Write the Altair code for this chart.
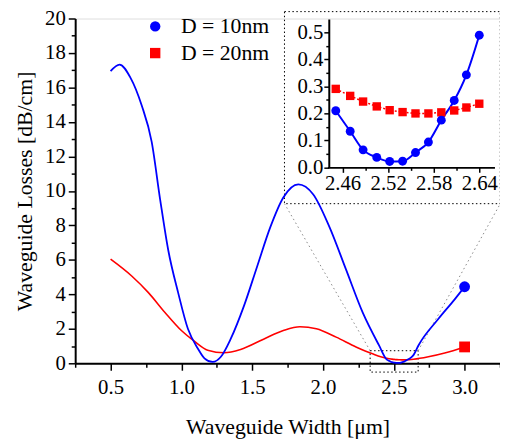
import altair as alt
import pandas as pd

# ---------------- data ----------------
# main curves (width in um, losses in dB/cm)
blue_x = [0.50, 0.563, 0.64, 0.72, 0.79, 0.85, 0.907, 0.977, 1.046, 1.116, 1.163, 1.221,
          1.279, 1.349, 1.442, 1.535, 1.628, 1.72, 1.826, 1.93, 2.046, 2.163, 2.28, 2.395,
          2.451, 2.470, 2.487, 2.505, 2.522, 2.539, 2.556, 2.573, 2.590, 2.607, 2.623, 2.640,
          2.675, 2.814, 2.93, 3.00]
blue_y = [16.95, 17.33, 16.57, 14.95, 12.86, 9.5, 6.57, 4.1, 2.0, 0.86, 0.29, 0.08,
          0.38, 1.43, 3.33, 5.62, 7.9, 9.62, 10.38, 9.81, 7.9, 5.43, 2.95, 1.05,
          0.21, 0.134, 0.065, 0.037, 0.022, 0.023, 0.055, 0.094, 0.175, 0.248, 0.343, 0.49,
          1.05, 2.57, 3.71, 4.44]

red_x = [0.50, 0.651, 0.767, 0.884, 1.0, 1.093, 1.186, 1.302, 1.418, 1.58, 1.72, 1.837,
         1.953, 2.093, 2.233, 2.35,
         2.451, 2.470, 2.487, 2.505, 2.522, 2.539, 2.556, 2.573, 2.590, 2.607, 2.623, 2.640,
         2.744, 2.86, 3.00]
red_y = [6.04, 5.05, 4.1, 2.95, 1.9, 1.27, 0.76, 0.61, 0.8, 1.4, 1.9, 2.12,
         2.0, 1.52, 0.95, 0.55,
         0.291, 0.265, 0.244, 0.226, 0.212, 0.205, 0.200, 0.200, 0.204, 0.211, 0.222, 0.236,
         0.38, 0.6, 0.95]

# end markers
series_names = ["D = 10nm", "D = 20nm"]
marker_x = [3.0, 3.0]
marker_y = [4.44, 0.95]

# inset data
inset_x = [2.451, 2.470, 2.487, 2.505, 2.522, 2.539, 2.556, 2.573, 2.590, 2.607, 2.623, 2.640]
inset_blue = [0.21, 0.134, 0.065, 0.037, 0.022, 0.023, 0.055, 0.094, 0.175, 0.248, 0.343, 0.49]
inset_red = [0.291, 0.265, 0.244, 0.226, 0.212, 0.205, 0.200, 0.200, 0.204, 0.211, 0.222, 0.236]

# zoom annotation (main-axis coordinates)
zoom_rect = {"x": 2.333, "x2": 2.672, "y": -0.51, "y2": 0.73}
inset_box = {"x": 1.728, "x2": 3.252, "y": 9.26, "y2": 20.4}
connectors = [
    {"x": 2.333, "y": 0.73, "x2": 1.728, "y2": 9.26},
    {"x": 2.672, "y": 0.73, "x2": 3.252, "y2": 9.26},
]

main_x_ticks = [0.25 * i for i in range(1, 14)]
main_y_ticks = list(range(0, 21))
inset_x_ticks = [2.46, 2.49, 2.52, 2.55, 2.58, 2.61, 2.64]
inset_y_ticks = [0.0, 0.05, 0.1, 0.15, 0.2, 0.25, 0.3, 0.35, 0.4, 0.45, 0.5]

BLUE = "#0000ff"
RED = "#ff0000"
FONT = "Liberation Serif"

W, H = 430, 349

# ---------------- main chart ----------------
xs_main = alt.Scale(domain=[0.25, 3.25], nice=False, zero=False)
ys_main = alt.Scale(domain=[0, 20], nice=False, zero=False)

x_axis_main = alt.Axis(
    values=main_x_ticks, title="Waveguide Width [\u03bcm]", grid=False,
    labelExpr="datum.value % 0.5 == 0 ? format(datum.value, '.1f') : ''",
    labelOverlap=False, labelFlush=False,
    tickSize={"condition": {"test": "datum.value % 0.5 == 0", "value": 7}, "value": 4},
    tickWidth=1.5, domainWidth=2, domainColor="black", tickColor="black",
    labelFont=FONT, labelFontSize=21, labelColor="black", labelPadding=7,
    titleFont=FONT, titleFontSize=22, titleFontWeight="normal", titleColor="black",
    titlePadding=19,
)
y_axis_main = alt.Axis(
    values=main_y_ticks, title="Waveguide Losses [dB/cm]", grid=False,
    labelExpr="datum.value % 2 == 0 ? datum.label : ''",
    labelOverlap=False, labelFlush=False,
    tickSize={"condition": {"test": "datum.value % 2 == 0", "value": 7}, "value": 4},
    tickWidth=1.5, domainWidth=2, domainColor="black", tickColor="black",
    labelFont=FONT, labelFontSize=21, labelColor="black", labelPadding=3,
    titleFont=FONT, titleFontSize=22, titleFontWeight="normal", titleColor="black",
    titlePadding=8,
)

blue_df = pd.DataFrame({"x": blue_x, "y": blue_y})
red_df = pd.DataFrame({"x": red_x, "y": red_y})
mk_df = pd.DataFrame({"x": marker_x, "y": marker_y, "series": series_names})

base_x = alt.X("x:Q", scale=xs_main, axis=x_axis_main)
base_y = alt.Y("y:Q", scale=ys_main, axis=y_axis_main)

box = alt.Chart(pd.DataFrame([inset_box])).mark_rect(
    fill=None, stroke="black", strokeWidth=1, strokeDash=[1.5, 2.5]
).encode(x=base_x, x2="x2:Q", y=base_y, y2="y2:Q")

zrect = alt.Chart(pd.DataFrame([zoom_rect])).mark_rect(
    fill=None, stroke="black", strokeWidth=1, strokeDash=[1.5, 2.5]
).encode(x=base_x, x2="x2:Q", y=base_y, y2="y2:Q")

conn = alt.Chart(pd.DataFrame(connectors)).mark_rule(
    stroke="#888888", strokeWidth=1, strokeDash=[1.5, 3]
).encode(x=base_x, x2="x2:Q", y=base_y, y2="y2:Q")

blue_line = alt.Chart(blue_df).mark_line(
    color=BLUE, strokeWidth=1.8, interpolate="monotone"
).encode(x=base_x, y=base_y)

red_line = alt.Chart(red_df).mark_line(
    color=RED, strokeWidth=1.6, interpolate="monotone"
).encode(x=base_x, y=base_y)

legend = alt.Legend(
    orient="none", legendX=70, legendY=-3, title=None,
    labelFont=FONT, labelFontSize=22, labelColor="black",
    symbolSize=110, symbolStrokeWidth=0, rowPadding=5, labelOffset=15,
)
markers = alt.Chart(mk_df).mark_point(filled=True, opacity=1, size=120).encode(
    x=base_x, y=base_y,
    color=alt.Color("series:N", scale=alt.Scale(domain=series_names, range=[BLUE, RED]), legend=legend),
    shape=alt.Shape("series:N", scale=alt.Scale(domain=series_names, range=["circle", "square"]), legend=legend),
)

main = alt.layer(box, conn, zrect, red_line, blue_line, markers)

# ---------------- inset ----------------
xs_in = alt.Scale(domain=[2.44, 2.66], range=[255.3, 424.4], nice=False, zero=False)
ys_in = alt.Scale(domain=[0, 0.55], range=[150.7, 0.5], nice=False, zero=False)

x_axis_in = alt.Axis(
    orient="bottom", offset=150.7 - H, values=inset_x_ticks, title=None, grid=False,
    labelExpr="indexof([2.46, 2.52, 2.58, 2.64], round(datum.value*100)/100) >= 0 ? format(datum.value, '.2f') : ''",
    labelOverlap=False, labelFlush=False,
    tickSize={"condition": {"test": "indexof([2.46, 2.52, 2.58, 2.64], round(datum.value*100)/100) >= 0", "value": 5}, "value": 3},
    tickWidth=1.5, domainWidth=2, domainColor="black", tickColor="black",
    labelFont=FONT, labelFontSize=21, labelColor="black", labelPadding=0,
)
y_axis_in = alt.Axis(
    orient="left", offset=-256.7, values=inset_y_ticks, title=None, grid=False,
    labelExpr="abs(datum.value*10 - round(datum.value*10)) < 0.01 ? format(datum.value, '.1f') : ''",
    labelOverlap=False, labelFlush=False,
    tickSize={"condition": {"test": "abs(datum.value*10 - round(datum.value*10)) < 0.01", "value": 5}, "value": 3},
    tickWidth=1.5, domainWidth=2, domainColor="black", tickColor="black",
    labelFont=FONT, labelFontSize=21, labelColor="black", labelPadding=1,
)

in_df = pd.DataFrame({"x": inset_x, "blue": inset_blue, "red": inset_red})
ix = alt.X("x:Q", scale=xs_in, axis=x_axis_in)

in_red_line = alt.Chart(in_df).mark_line(color=RED, strokeWidth=1.5, strokeDash=[2, 2]).encode(
    x=ix, y=alt.Y("red:Q", scale=ys_in, axis=y_axis_in))
in_blue_line = alt.Chart(in_df).mark_line(color=BLUE, strokeWidth=2, interpolate="monotone").encode(
    x=ix, y=alt.Y("blue:Q", scale=ys_in, axis=y_axis_in))
in_red_pts = alt.Chart(in_df).mark_point(shape="square", filled=True, color=RED, opacity=1, size=72).encode(
    x=ix, y=alt.Y("red:Q", scale=ys_in, axis=y_axis_in))
in_blue_pts = alt.Chart(in_df).mark_point(shape="circle", filled=True, color=BLUE, opacity=1, size=81).encode(
    x=ix, y=alt.Y("blue:Q", scale=ys_in, axis=y_axis_in))

inset = alt.layer(in_red_line, in_blue_line, in_red_pts, in_blue_pts)

chart = alt.layer(main, inset).resolve_scale(
    x="independent", y="independent"
).properties(
    width=W, height=H,
    autosize=alt.AutoSizeParams(type="none"),
    padding={"left": 68, "top": 8, "right": 0, "bottom": 75},
).configure_view(stroke=None).configure(font=FONT)

chart.save("out.html", embed_options={"renderer": "svg", "actions": False})
